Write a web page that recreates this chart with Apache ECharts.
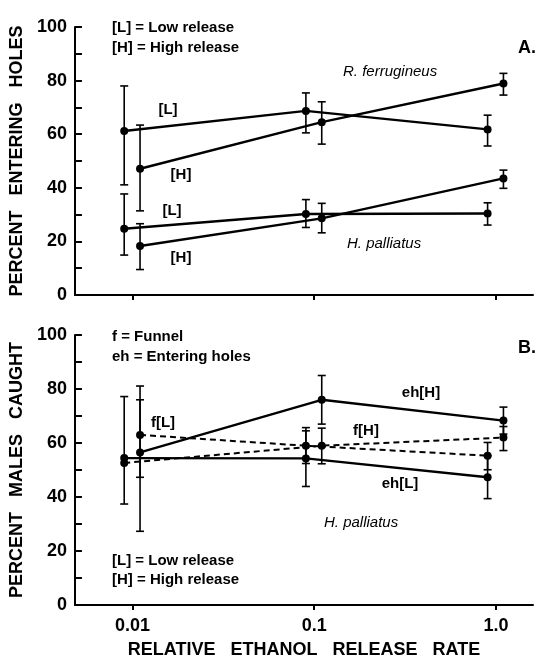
<!DOCTYPE html>
<html>
<head>
<meta charset="utf-8">
<script src="https://cdn.jsdelivr.net/npm/echarts@6/dist/echarts.min.js"></script>
<style>
  html, body { margin: 0; background: #fff; }
  #chart { width: 546px; height: 668px; }
</style>
</head>
<body>
<div id="chart"></div>
<script>
// x positions: low-release points sit just left of each decade, high-release just right
const xLow = [0.009, 0.09, 0.9];
const xHigh = [0.011, 0.11, 1.1];
const xTicks = [0.01, 0.1, 1];
const xTickLabels = ['0.01', '0.1', '1.0'];

// Panel A - percent entering holes
const rfLowY = [61.2, 68.7, 61.8];
const rfLowErrLo = [41.1, 60.5, 55.6];
const rfLowErrHi = [78.0, 75.4, 67.1];
const rfHighY = [47.1, 64.5, 78.9];
const rfHighErrLo = [31.4, 56.3, 74.6];
const rfHighErrHi = [63.4, 72.1, 82.7];
const hpLowY = [24.7, 30.2, 30.4];
const hpLowErrLo = [14.9, 25.2, 26.1];
const hpLowErrHi = [37.7, 35.6, 34.4];
const hpHighY = [18.3, 28.6, 43.5];
const hpHighErrLo = [9.5, 23.2, 39.8];
const hpHighErrHi = [26.6, 34.2, 46.6];

// Panel B - percent males caught (H. palliatus)
const ehLowY = [54.4, 54.3, 47.3];
const ehLowErrLo = [37.4, 43.9, 39.4];
const ehLowErrHi = [77.2, 64.5, 55.3];
const ehHighY = [56.5, 76.0, 68.3];
const ehHighErrLo = [27.3, 67.0, 63.3];
const ehHighErrHi = [76.0, 85.0, 73.3];
// funnel points are drawn on the opposite side at 0.01
const fLowX = [0.011, 0.09, 0.9];
const fLowY = [63.0, 59.0, 55.3];
const fLowErrLo = [47.3, 52.4, 50.1];
const fLowErrHi = [81.1, 65.7, 60.2];
const fHighX = [0.009, 0.11, 1.1];
const fHighY = [52.6, 59.0, 62.0];
const fHighErrLo = [null, 52.3, 57.2];
const fHighErrHi = [null, 65.5, 66.1];

const FONT = 'Liberation Sans, Arial, Helvetica, sans-serif';

function line(idx, xs, ys, dashed) {
  return {
    type: 'line',
    xAxisIndex: idx, yAxisIndex: idx,
    data: xs.map((x, i) => [x, ys[i]]),
    symbol: 'circle', symbolSize: 8,
    itemStyle: { color: '#000' },
    lineStyle: { color: '#000', width: dashed ? 2 : 2.4, type: dashed ? [6, 4] : 'solid' },
    z: 3, silent: true, animation: false
  };
}

function errBars(idx, xs, lo, hi) {
  const data = [];
  xs.forEach((x, i) => { if (lo[i] != null) data.push([x, lo[i], hi[i]]); });
  return {
    type: 'custom',
    xAxisIndex: idx, yAxisIndex: idx,
    data: data,
    encode: { x: 0, y: [1, 2] },
    z: 2, silent: true, animation: false,
    renderItem: function (params, api) {
      const x = api.value(0);
      const top = api.coord([x, api.value(2)]);
      const bot = api.coord([x, api.value(1)]);
      const w = 4;
      const st = { stroke: '#000', lineWidth: 1.6 };
      return {
        type: 'group',
        children: [
          { type: 'line', shape: { x1: top[0], y1: top[1], x2: bot[0], y2: bot[1] }, style: st },
          { type: 'line', shape: { x1: top[0] - w, y1: top[1], x2: top[0] + w, y2: top[1] }, style: st },
          { type: 'line', shape: { x1: bot[0] - w, y1: bot[1], x2: bot[0] + w, y2: bot[1] }, style: st }
        ]
      };
    }
  };
}

function xAxis(idx, showLabels) {
  return {
    type: 'log', logBase: 10, gridIndex: idx,
    min: 0.00482, max: 1.6,
    axisLine: { lineStyle: { color: '#000', width: 2 } },
    axisTick: { customValues: xTicks, length: 5, lineStyle: { color: '#000', width: 2 } },
    axisLabel: {
      show: showLabels, customValues: xTicks, margin: 12,
      color: '#000', fontFamily: FONT, fontWeight: 'bold', fontSize: 18,
      formatter: v => xTickLabels[Math.round(Math.log10(v)) + 2]
    },
    splitLine: { show: false },
    name: showLabels ? 'RELATIVE   ETHANOL   RELEASE   RATE' : '',
    nameLocation: 'middle', nameGap: 36,
    nameTextStyle: { color: '#000', fontFamily: FONT, fontWeight: 'bold', fontSize: 18 }
  };
}

function yAxis(idx, name) {
  return {
    type: 'value', gridIndex: idx,
    min: 0, max: 100, interval: 10,
    axisLine: { show: true, lineStyle: { color: '#000', width: 2 } },
    axisTick: { inside: true, length: 7, lineStyle: { color: '#000', width: 2 } },
    axisLabel: {
      color: '#000', fontFamily: FONT, fontWeight: 'bold', fontSize: 18, margin: 8,
      formatter: v => (v % 20 === 0 ? String(v) : '')
    },
    splitLine: { show: false },
    name: name, nameLocation: 'middle', nameRotate: 90, nameGap: 40,
    nameTextStyle: { color: '#000', fontFamily: FONT, fontWeight: 'bold', fontSize: 18 }
  };
}

function txt(x, y, text, opts) {
  return {
    type: 'text', x: x, y: y, silent: true,
    style: Object.assign({
      text: text, fill: '#000', fontFamily: FONT, fontSize: 15, fontWeight: 'bold',
      verticalAlign: 'middle', align: 'left'
    }, opts || {})
  };
}

const chart = echarts.init(document.getElementById('chart'), null, { renderer: 'canvas' });
chart.setOption({
  backgroundColor: '#fff',
  animation: false,
  grid: [
    { left: 72, top: 27, width: 461, height: 268 },
    { left: 72, top: 335, width: 461, height: 270 }
  ],
  xAxis: [xAxis(0, false), xAxis(1, true)],
  yAxis: [yAxis(0, 'PERCENT   ENTERING   HOLES'), yAxis(1, 'PERCENT   MALES   CAUGHT')],
  series: [
    errBars(0, xLow, rfLowErrLo, rfLowErrHi),
    errBars(0, xHigh, rfHighErrLo, rfHighErrHi),
    errBars(0, xLow, hpLowErrLo, hpLowErrHi),
    errBars(0, xHigh, hpHighErrLo, hpHighErrHi),
    line(0, xLow, rfLowY, false),
    line(0, xHigh, rfHighY, false),
    line(0, xLow, hpLowY, false),
    line(0, xHigh, hpHighY, false),
    errBars(1, xLow, ehLowErrLo, ehLowErrHi),
    errBars(1, xHigh, ehHighErrLo, ehHighErrHi),
    errBars(1, fLowX, fLowErrLo, fLowErrHi),
    errBars(1, fHighX, fHighErrLo, fHighErrHi),
    line(1, xLow, ehLowY, false),
    line(1, xHigh, ehHighY, false),
    line(1, fLowX, fLowY, true),
    line(1, fHighX, fHighY, true)
  ],
  graphic: [
    txt(112, 28, '[L] = Low release'),
    txt(112, 48, '[H] = High release'),
    txt(518, 48, 'A.', { fontSize: 18 }),
    txt(343, 72, 'R. ferrugineus', { fontWeight: 'normal', fontStyle: 'italic' }),
    txt(347, 244, 'H. palliatus', { fontWeight: 'normal', fontStyle: 'italic' }),
    txt(168, 110, '[L]', { align: 'center' }),
    txt(181, 175, '[H]', { align: 'center' }),
    txt(172, 211, '[L]', { align: 'center' }),
    txt(181, 258, '[H]', { align: 'center' }),
    txt(112, 337, 'f = Funnel'),
    txt(112, 357, 'eh = Entering holes'),
    txt(518, 348, 'B.', { fontSize: 18 }),
    txt(163, 423, 'f[L]', { align: 'center' }),
    txt(421, 393, 'eh[H]', { align: 'center' }),
    txt(366, 431, 'f[H]', { align: 'center' }),
    txt(400, 484, 'eh[L]', { align: 'center' }),
    txt(324, 523, 'H. palliatus', { fontWeight: 'normal', fontStyle: 'italic' }),
    txt(112, 561, '[L] = Low release'),
    txt(112, 580, '[H] = High release')
  ]
});
</script>
</body>
</html>
